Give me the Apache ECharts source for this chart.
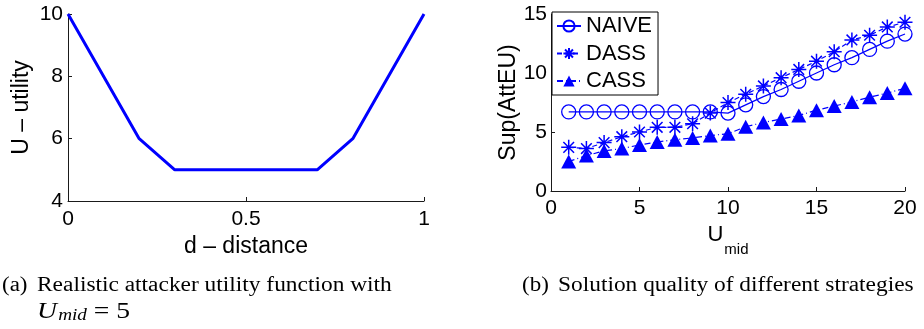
<!DOCTYPE html>
<html>
<head>
<meta charset="utf-8">
<script src="https://cdn.jsdelivr.net/npm/echarts@6/dist/echarts.min.js"></script>
<style>
html,body{margin:0;padding:0;background:#fff;}
#c{width:924px;height:329px;}
</style>
</head>
<body>
<div id="c"></div>
<script>
// Left panel: attacker utility function
var distX = [0, 0.2, 0.3, 0.7, 0.8, 1];
var utilY = [10, 6, 5, 5, 6, 10];
var leftXTicks = [0, 0.5, 1];
var leftYTicks = [4, 6, 8, 10];

// Right panel: solution quality
var uMid = [1,2,3,4,5,6,7,8,9,10,11,12,13,14,15,16,17,18,19,20];
var naive = [6.7,6.7,6.7,6.7,6.7,6.7,6.7,6.7,6.7,6.6,7.3,8.0,8.6,9.3,10.0,10.7,11.3,12.0,12.7,13.3];
var dass  = [3.7,3.6,4.1,4.6,5.0,5.4,5.4,5.7,6.6,7.5,8.2,8.9,9.6,10.3,11.0,11.8,12.8,13.2,13.9,14.3];
var cass  = [2.5,3.0,3.4,3.6,3.9,4.15,4.35,4.5,4.7,4.85,5.45,5.8,6.1,6.4,6.85,7.2,7.55,7.95,8.3,8.7];
var seriesNames = ['NAIVE', 'DASS', 'CASS'];
var rightXTicks = [0, 5, 10, 15, 20];
var rightYTicks = [0, 5, 10, 15];

var SANS = '"Liberation Sans", Arial, Helvetica, sans-serif';
var SERIF = '"Liberation Serif", "Times New Roman", serif';
var BLUE = '#0000ff';
var AX = '#1a1a1a';

function pairs(xs, ys) { return xs.map(function (x, i) { return [x, ys[i]]; }); }

function axisCommon(extra) {
  var base = {
    type: 'value',
    axisLine: { show: true, onZero: false, lineStyle: { color: AX, width: 1 } },
    axisTick: { show: true, inside: true, length: 4, lineStyle: { color: AX, width: 1 } },
    splitLine: { show: false },
    axisLabel: { color: '#000', fontFamily: SANS, fontSize: 21 },
    nameTextStyle: { color: '#000', fontFamily: SANS, fontSize: 23 }
  };
  for (var k in extra) {
    if (typeof extra[k] === 'object' && base[k] && !Array.isArray(extra[k])) {
      for (var j in extra[k]) base[k][j] = extra[k][j];
    } else base[k] = extra[k];
  }
  return base;
}

var starPath = 'path://M10,0L10,20M0,10L20,10M2.9,2.9L17.1,17.1M2.9,17.1L17.1,2.9';

var chart = echarts.init(document.getElementById('c'), null, { renderer: 'canvas' });
chart.setOption({
  animation: false,
  backgroundColor: '#fff',
  grid: [
    { left: 68, top: 14, width: 356, height: 187 },
    { left: 551, top: 14, width: 354, height: 177 }
  ],
  xAxis: [
    axisCommon({
      gridIndex: 0, min: leftXTicks[0], max: leftXTicks[leftXTicks.length - 1], interval: 0.5,
      name: 'd – distance', nameLocation: 'middle', nameGap: 27,
      axisLabel: { margin: 8, formatter: function (v) { return String(v); } }
    }),
    axisCommon({
      gridIndex: 1, min: rightXTicks[0], max: rightXTicks[rightXTicks.length - 1], interval: 5,
      name: '{u|U}{s|mid}', nameLocation: 'middle', nameGap: 12,
      nameTextStyle: {
        rich: {
          u: { fontFamily: SANS, fontSize: 22, color: '#000' },
          s: { fontFamily: SANS, fontSize: 15, color: '#000', padding: [30, 0, 0, 1] }
        }
      },
      axisLabel: { margin: 7 }
    })
  ],
  yAxis: [
    axisCommon({
      gridIndex: 0, min: leftYTicks[0], max: leftYTicks[leftYTicks.length - 1], interval: 2,
      name: 'U – utility', nameLocation: 'middle', nameGap: 35,
      axisLabel: { margin: 5 }
    }),
    axisCommon({
      gridIndex: 1, min: rightYTicks[0], max: rightYTicks[rightYTicks.length - 1], interval: 5,
      name: 'Sup(AttEU)', nameLocation: 'middle', nameGap: 27,
      axisLabel: { margin: 4 }
    })
  ],
  legend: {
    data: seriesNames,
    orient: 'vertical',
    left: 552, top: 12,
    backgroundColor: '#fff',
    borderColor: '#000', borderWidth: 1,
    padding: [3, 6, 3, 4],
    itemGap: 5.5,
    itemWidth: 24, itemHeight: 14,
    textStyle: { color: '#000', fontFamily: SANS, fontSize: 22, lineHeight: 22 }
  },
  series: [
    {
      type: 'line', xAxisIndex: 0, yAxisIndex: 0,
      data: pairs(distX, utilY),
      showSymbol: false, symbol: 'none',
      lineStyle: { color: BLUE, width: 3 },
      itemStyle: { color: BLUE },
      z: 3
    },
    {
      name: seriesNames[0], type: 'line', xAxisIndex: 1, yAxisIndex: 1,
      data: pairs(uMid, naive),
      symbol: 'circle', symbolSize: 14,
      itemStyle: { color: 'rgba(0,0,0,0)', borderColor: BLUE, borderWidth: 1.3 },
      lineStyle: { color: BLUE, width: 1.2, type: 'solid' },
      z: 4
    },
    {
      name: seriesNames[1], type: 'line', xAxisIndex: 1, yAxisIndex: 1,
      data: pairs(uMid, dass),
      symbol: starPath, symbolSize: 15,
      itemStyle: { color: 'rgba(0,0,0,0)', borderColor: BLUE, borderWidth: 1.5 },
      lineStyle: { color: BLUE, width: 1.2, type: [5, 3] },
      z: 4
    },
    {
      name: seriesNames[2], type: 'line', xAxisIndex: 1, yAxisIndex: 1,
      data: pairs(uMid, cass),
      symbol: 'triangle', symbolSize: [15, 14],
      itemStyle: { color: BLUE, borderColor: BLUE, borderWidth: 0 },
      lineStyle: { color: BLUE, width: 1.2, type: [6, 3, 1, 3] },
      z: 4
    }
  ],
  graphic: [
    { type: 'text', left: 2, top: 276, scaleX: 1.15, style: { text: '(a)', font: '20px ' + SERIF, fill: '#000' } },
    { type: 'text', left: 37, top: 276, scaleX: 1.17, style: { text: 'Realistic attacker utility function with', font: '20px ' + SERIF, fill: '#000' } },
    {
      type: 'text', left: 37, top: 300, scaleX: 1.2,
      style: {
        text: '{u|U}{s|mid}{n| = 5}',
        rich: {
          u: { font: 'italic 23px ' + SERIF, fill: '#000' },
          s: { font: 'italic 16px ' + SERIF, fill: '#000', padding: [9, 0, 0, 1] },
          n: { font: '23px ' + SERIF, fill: '#000' }
        }
      }
    },
    { type: 'text', left: 522, top: 276, scaleX: 1.15, style: { text: '(b)', font: '20px ' + SERIF, fill: '#000' } },
    { type: 'text', left: 558, top: 276, scaleX: 1.17, style: { text: 'Solution quality of different strategies', font: '20px ' + SERIF, fill: '#000' } }
  ]
});
</script>
</body>
</html>
